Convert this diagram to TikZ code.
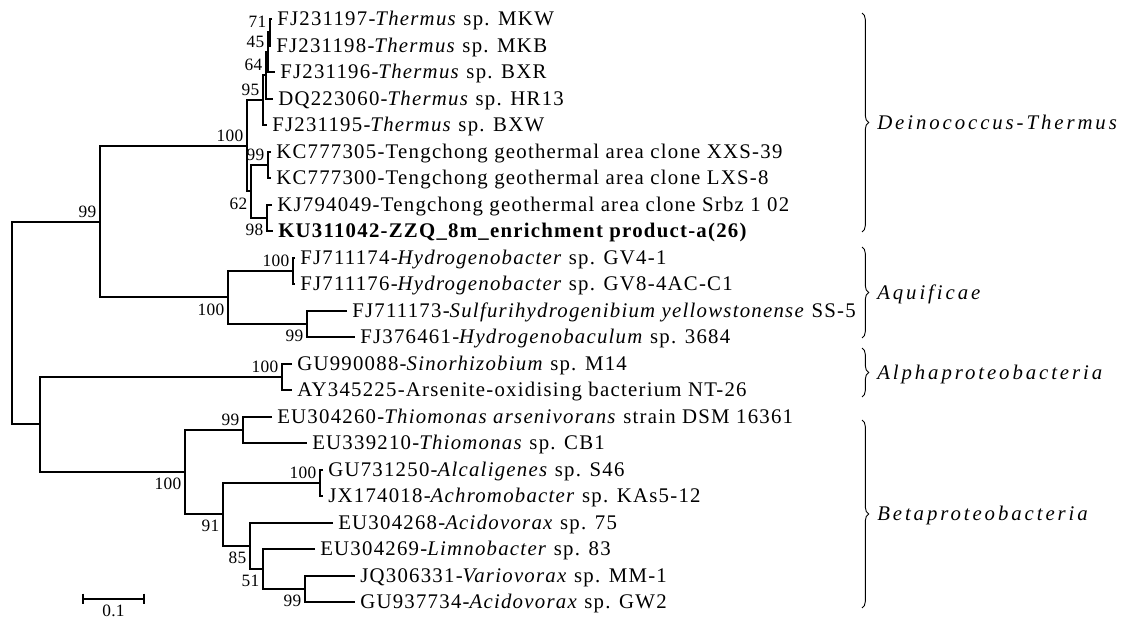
\documentclass[tikz,border=0pt]{standalone}
\usepackage{fontspec}
\usetikzlibrary{decorations.pathreplacing,calc}
\newfontfamily\leaffont{Liberation Serif}[LetterSpace=6]
\newfontfamily\bsfont{Liberation Serif}[LetterSpace=2]
\newfontfamily\grpfont{Liberation Serif}[LetterSpace=14]
\begin{document}
\begin{tikzpicture}[x=0.75pt,y=-0.75pt,
  br/.style={line width=1.5pt, line join=miter},
  leaf/.style={anchor=base west, xshift=3.75pt, yshift=-5.2pt, inner sep=0pt, font=\leaffont\fontsize{15.6pt}{18pt}\selectfont},
  bsa/.style={anchor=south east, inner sep=0pt, xshift=-2.5pt, yshift=3pt, font=\bsfont\fontsize{13pt}{15pt}\selectfont},
  bsb/.style={anchor=north east, inner sep=0pt, xshift=-2.5pt, yshift=-4.5pt, font=\bsfont\fontsize{13pt}{15pt}\selectfont},
  brc/.style={decorate, decoration={brace, amplitude=5pt}, line width=0.7pt},
  grp/.style={anchor=base west, inner sep=0pt, yshift=-5.2pt, font=\grpfont\fontsize{15.6pt}{18pt}\selectfont\itshape}]
\useasboundingbox (0,0) rectangle (1126,622);
% leaves (branch ends)
\coordinate (L1) at (272,19);
\coordinate (L2) at (271,45.5);
\coordinate (L3) at (275,72);
\coordinate (L4) at (273,98.5);
\coordinate (L5) at (267,125);
\coordinate (L6) at (271,151.5);
\coordinate (L7) at (271,178);
\coordinate (L8) at (272,204.5);
\coordinate (L9) at (273,231);
\coordinate (L10) at (295,257.5);
\coordinate (L11) at (295,284);
\coordinate (L12) at (347,310.5);
\coordinate (L13) at (355,337);
\coordinate (L14) at (292,363.5);
\coordinate (L15) at (292,390);
\coordinate (L16) at (272,416.5);
\coordinate (L17) at (307,443);
\coordinate (L18) at (323,469.5);
\coordinate (L19) at (323,496);
\coordinate (L20) at (333,522.5);
\coordinate (L21) at (315,549);
\coordinate (L22) at (355,575.5);
\coordinate (L23) at (355,602);
% internal nodes
\coordinate (T71) at (270,32.25);
\coordinate (T45) at (268,52.1);
\coordinate (T64) at (266,75.3);
\coordinate (TH) at (263,100.2);
\coordinate (K99) at (268,164.75);
\coordinate (K98) at (267,217.75);
\coordinate (TC) at (251,191.25);
\coordinate (DT) at (247,145.7);
\coordinate (H100) at (293,270.75);
\coordinate (S99) at (307,323.75);
\coordinate (AQ) at (228,297.25);
\coordinate (A99) at (100,221.5);
\coordinate (AL) at (282,376.75);
\coordinate (TM) at (243,429.75);
\coordinate (AC) at (320,482.75);
\coordinate (V99) at (305,588.75);
\coordinate (N51) at (263,568.9);
\coordinate (N85) at (250,545.7);
\coordinate (N91) at (223,514.2);
\coordinate (BE) at (185,472);
\coordinate (P) at (40,424.4);
\coordinate (R) at (12,323);
% branches
\draw[br] (L1) -| (T71) |- (L2);
\draw[br] (T71) -| (T45) |- (L3);
\draw[br] (T45) -| (T64) |- (L4);
\draw[br] (T64) -| (TH) |- (L5);
\draw[br] (L6) -| (K99) |- (L7);
\draw[br] (L8) -| (K98) |- (L9);
\draw[br] (K99) -| (TC) |- (K98);
\draw[br] (TH) -| (DT) |- (TC);
\draw[br] (L10) -| (H100) |- (L11);
\draw[br] (L12) -| (S99) |- (L13);
\draw[br] (H100) -| (AQ) |- (S99);
\draw[br] (DT) -| (A99) |- (AQ);
\draw[br] (L14) -| (AL) |- (L15);
\draw[br] (L16) -| (TM) |- (L17);
\draw[br] (L18) -| (AC) |- (L19);
\draw[br] (L22) -| (V99) |- (L23);
\draw[br] (L21) -| (N51) |- (V99);
\draw[br] (L20) -| (N85) |- (N51);
\draw[br] (AC) -| (N91) |- (N85);
\draw[br] (TM) -| (BE) |- (N91);
\draw[br] (AL) -| (P) |- (BE);
\draw[br] (A99) -| (R) |- (P);
% leaf labels
\node[leaf] (t1) at (L1) {FJ231197-\textit{Thermus} sp. MKW};
\node[leaf] (t2) at (L2) {FJ231198-\textit{Thermus} sp. MKB};
\node[leaf] (t3) at (L3) {FJ231196-\textit{Thermus} sp. BXR};
\node[leaf] (t4) at (L4) {DQ223060-\textit{Thermus} sp. HR13};
\node[leaf] (t5) at (L5) {FJ231195-\textit{Thermus} sp. BXW};
\node[leaf] (t6) at (L6) {KC777305-Tengchong geothermal area clone XXS-39};
\node[leaf] (t7) at (L7) {KC777300-Tengchong geothermal area clone LXS-8};
\node[leaf] (t8) at (L8) {KJ794049-Tengchong geothermal area clone Srbz 1 02};
\node[leaf] (t9) at (L9) {\bfseries KU311042-ZZQ\_8m\_enrichment product-a(26)};
\node[leaf] (t10) at (L10) {FJ711174-\textit{Hydrogenobacter} sp. GV4-1};
\node[leaf] (t11) at (L11) {FJ711176-\textit{Hydrogenobacter} sp. GV8-4AC-C1};
\node[leaf] (t12) at (L12) {FJ711173-\textit{Sulfurihydrogenibium yellowstonense} SS-5};
\node[leaf] (t13) at (L13) {FJ376461-\textit{Hydrogenobaculum} sp. 3684};
\node[leaf] (t14) at (L14) {GU990088-\textit{Sinorhizobium} sp. M14};
\node[leaf] (t15) at (L15) {AY345225-Arsenite-oxidising bacterium NT-26};
\node[leaf] (t16) at (L16) {EU304260-\textit{Thiomonas arsenivorans} strain DSM 16361};
\node[leaf] (t17) at (L17) {EU339210-\textit{Thiomonas} sp. CB1};
\node[leaf] (t18) at (L18) {GU731250-\textit{Alcaligenes} sp. S46};
\node[leaf] (t19) at (L19) {JX174018-\textit{Achromobacter} sp. KAs5-12};
\node[leaf] (t20) at (L20) {EU304268-\textit{Acidovorax} sp. 75};
\node[leaf] (t21) at (L21) {EU304269-\textit{Limnobacter} sp. 83};
\node[leaf] (t22) at (L22) {JQ306331-\textit{Variovorax} sp. MM-1};
\node[leaf] (t23) at (L23) {GU937734-\textit{Acidovorax} sp. GW2};
% bootstrap values
\node[bsa] (b71) at (T71) {71};
\node[bsa] (b45) at (T45) {45};
\node[bsa] (b64) at (T64) {64};
\node[bsa] (b95) at (TH) {95};
\node[bsa] (b100dt) at (DT) {100};
\node[bsa] (b99k) at (K99) {99};
\node[bsb] (b62) at (TC) {62};
\node[bsb] (b98) at (K98) {98};
\node[bsa] (b99a) at (A99) {99};
\node[bsa] (b100h) at (H100) {100};
\node[bsb] (b100aq) at (AQ) {100};
\node[bsb] (b99s) at (S99) {99};
\node[bsa] (b100al) at (AL) {100};
\node[bsa] (b99tm) at (TM) {99};
\node[bsb] (b100be) at (BE) {100};
\node[bsa] (b100ac) at (AC) {100};
\node[bsb] (b91) at (N91) {91};
\node[bsb] (b85) at (N85) {85};
\node[bsb] (b51) at (N51) {51};
\node[bsb] (b99v) at (V99) {99};
% scale bar
\coordinate (s1) at (83,599);
\coordinate (s2) at (144,599);
\draw[line width=1.5pt] (s1) -- (s2);
\draw[line width=1.2pt] ([yshift=4pt]s1) -- ([yshift=-4pt]s1);
\draw[line width=1.2pt] ([yshift=4pt]s2) -- ([yshift=-4pt]s2);
\node[anchor=north, inner sep=0pt, font=\bsfont\fontsize{13pt}{15pt}\selectfont] (scl) at ($(s1)!0.5!(s2)+(0,6)$) {0.1};
% braces and groups
\coordinate (g1t) at (862,13);   \coordinate (g1b) at (862,232);
\coordinate (g2t) at (862,247);  \coordinate (g2b) at (862,338);
\coordinate (g3t) at (862,348);  \coordinate (g3b) at (862,397);
\coordinate (g4t) at (862,420);  \coordinate (g4b) at (862,608);
\draw[brc] (g1t) -- (g1b);
\draw[brc] (g2t) -- (g2b);
\draw[brc] (g3t) -- (g3b);
\draw[brc] (g4t) -- (g4b);
\node[grp] (n1) at (877,122.5) {Deinococcus-Thermus};
\node[grp] (n2) at (877,292.5) {Aquificae};
\node[grp] (n3) at (877,372.5) {Alphaproteobacteria};
\node[grp] (n4) at (877,514) {Betaproteobacteria};
\end{tikzpicture}
\end{document}
